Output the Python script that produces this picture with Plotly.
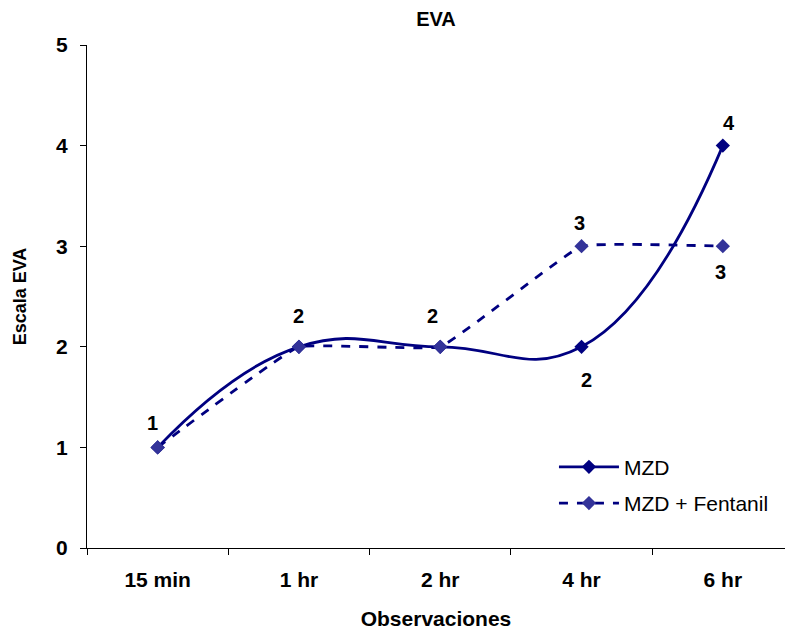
import plotly.graph_objects as go

categories = ["15 min", "1 hr", "2 hr", "4 hr", "6 hr"]
mzd = [1, 2, 2, 2, 4]
mzd_fent = [1, 2, 2, 3, 3]
# which series carries the value label at each category (None = no label), with its pixel offset
mzd_label_dy = [24, 31, 31, -33, 23]
fent_label_dy = [None, None, None, 23, -26]
mzd_label_dx = [-5, 0, -8, 5, 6]
fent_label_dx = [0, 0, 0, -2, -2]
yticks = [0, 1, 2, 3, 4, 5]

FONT = "Arial, Liberation Sans, sans-serif"

fig = go.Figure()
fig.add_trace(go.Scatter(
    x=categories, y=mzd, name="MZD", mode="lines+markers", legendgroup="a",
    line=dict(color="#000080", width=2.8, shape="spline", smoothing=1.3),
    marker=dict(symbol="diamond", size=11, color="#000080"),
))
fig.add_trace(go.Scatter(
    x=categories, y=mzd_fent, name="MZD + Fentanil", mode="lines+markers", legendgroup="b",
    line=dict(color="#000080", width=2.8, dash="dash", shape="spline", smoothing=0.25),
    marker=dict(symbol="diamond", size=11, color="#333399"),
))

for xs, ys, dys, dxs in [(categories, mzd, mzd_label_dy, mzd_label_dx),
                         (categories, mzd_fent, fent_label_dy, fent_label_dx)]:
    for c, v, dy, dx in zip(xs, ys, dys, dxs):
        if dy is None:
            continue
        fig.add_annotation(
            x=c, y=v, text=f"<b>{v}</b>", showarrow=False,
            xshift=dx, yshift=dy,
            font=dict(family=FONT, size=20, color="black"),
        )

fig.update_layout(
    width=785, height=630,
    margin=dict(l=87, r=0, t=45, b=82),
    paper_bgcolor="white", plot_bgcolor="white",
    font=dict(family=FONT, color="black"),
    title=dict(text="<b>EVA</b>", x=0.5, xref="paper", xanchor="center",
               y=0.97, yref="container", yanchor="middle",
               font=dict(size=20, family=FONT)),
    showlegend=True,
    legend=dict(x=0.669, y=0.125, xanchor="left", yanchor="middle",
                bgcolor="rgba(0,0,0,0)", font=dict(size=21, family=FONT),
                itemwidth=60, tracegroupgap=6),
    xaxis=dict(
        type="category", range=[-0.5, 4.44],
        showline=True, linecolor="black", linewidth=1,
        ticks="outside", ticklen=6, tickcolor="black", tickson="boundaries",
        showgrid=False, zeroline=False, ticklabelstandoff=13,
        tickfont=dict(size=21, family=FONT, weight="bold"),
        title=dict(text="<b>Observaciones</b>", font=dict(size=21, family=FONT), standoff=23),
    ),
    yaxis=dict(
        range=[0, 5], tickvals=yticks,
        showline=True, linecolor="black", linewidth=1,
        ticks="outside", ticklen=6, tickcolor="black",
        showgrid=False, zeroline=False, ticklabelstandoff=8,
        tickfont=dict(size=21, family=FONT, weight="bold"),
        title=dict(text="<b>Escala EVA</b>", font=dict(size=18, family=FONT), standoff=24),
    ),
)

fig.write_html("out.html")
